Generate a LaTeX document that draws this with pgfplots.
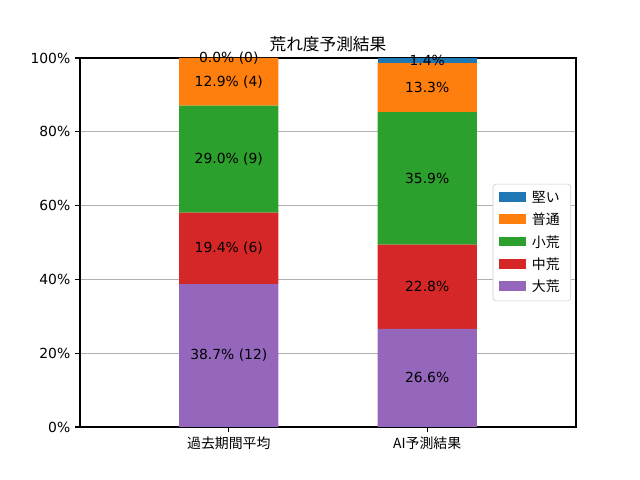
\documentclass[border=0pt]{standalone}
\usepackage{fontspec}
\setmainfont{DejaVu Sans}
\newfontfamily\cjk{Noto Sans CJK JP}
\usepackage{pgfplots}
\pgfplotsset{compat=1.18}
\definecolor{tabblue}{HTML}{1F77B4}
\definecolor{taborange}{HTML}{FF7F0E}
\definecolor{tabgreen}{HTML}{2CA02C}
\definecolor{tabred}{HTML}{D62728}
\definecolor{tabpurple}{HTML}{9467BD}
\tikzset{lbl/.style={font=\fontsize{10pt}{12pt}\selectfont, text=black}}
\begin{document}
\begin{tikzpicture}
\path[use as bounding box] (0,0) rectangle (460.8pt,345.6pt);
\begin{axis}[
  at={(57.6pt,38.16pt)}, anchor=south west,
  scale only axis, width=357.12pt, height=265.68pt,
  ybar stacked, bar width=0.5,
  xmin=-0.75, xmax=1.75, ymin=0, ymax=100,
  xtick={0,1}, xticklabels={{\cjk 過去期間平均},{\cjk AI予測結果}},
  ytick={0,20,40,60,80,100},
  yticklabels={0\%,20\%,40\%,60\%,80\%,100\%},
  tick align=outside, major tick length=3.5pt,
  tick style={black, line width=0.8pt},
  xtick pos=bottom, ytick pos=left,
  ymajorgrids, grid style={color=black!31, line width=0.8pt},
  axis line style={line width=0.8pt},
  tick label style={font=\fontsize{10pt}{12pt}\selectfont},
  title={\cjk 荒れ度予測結果}, title style={font=\fontsize{12pt}{14pt}\selectfont, yshift=-5pt},
  legend style={at={(0.99,0.5)}, anchor=east, draw=black!20, rounded corners=2pt,
    font=\fontsize{10pt}{12pt}\selectfont, row sep=2.2pt, inner xsep=4pt, inner ysep=3pt, fill=white},
  legend cell align=left,
  reverse legend,
  legend image code/.code={\fill[#1, sharp corners] (0pt,-3pt) rectangle (20pt,4pt);},
  legend style={nodes={inner xsep=4pt}},
]
\addplot[fill=tabpurple, draw=none] coordinates {(0,38.7) (1,26.6)};
\addplot[fill=tabred, draw=none] coordinates {(0,19.4) (1,22.8)};
\addplot[fill=tabgreen, draw=none] coordinates {(0,29.0) (1,35.9)};
\addplot[fill=taborange, draw=none] coordinates {(0,12.9) (1,13.3)};
\addplot[fill=tabblue, draw=none] coordinates {(0,0.0) (1,1.4)};
\legend{{\cjk 大荒},{\cjk 中荒},{\cjk 小荒},{\cjk 普通},{\cjk 堅い}}
\coordinate (a1) at (axis cs:0,19.35);
\coordinate (a2) at (axis cs:0,48.4);
\coordinate (a3) at (axis cs:0,72.6);
\coordinate (a4) at (axis cs:0,93.55);
\coordinate (a5) at (axis cs:0,100);
\coordinate (b1) at (axis cs:1,13.3);
\coordinate (b2) at (axis cs:1,38.0);
\coordinate (b3) at (axis cs:1,67.35);
\coordinate (b4) at (axis cs:1,92.0);
\coordinate (b5) at (axis cs:1,99.3);
\end{axis}
\node[lbl] at (a1) {38.7\% (12)};
\node[lbl] at (a2) {19.4\% (6)};
\node[lbl] at (a3) {29.0\% (9)};
\node[lbl] at (a4) {12.9\% (4)};
\node[lbl] at (a5) {0.0\% (0)};
\node[lbl] at (b1) {26.6\%};
\node[lbl] at (b2) {22.8\%};
\node[lbl] at (b3) {35.9\%};
\node[lbl] at (b4) {13.3\%};
\node[lbl] at (b5) {1.4\%};
\end{tikzpicture}
\end{document}
